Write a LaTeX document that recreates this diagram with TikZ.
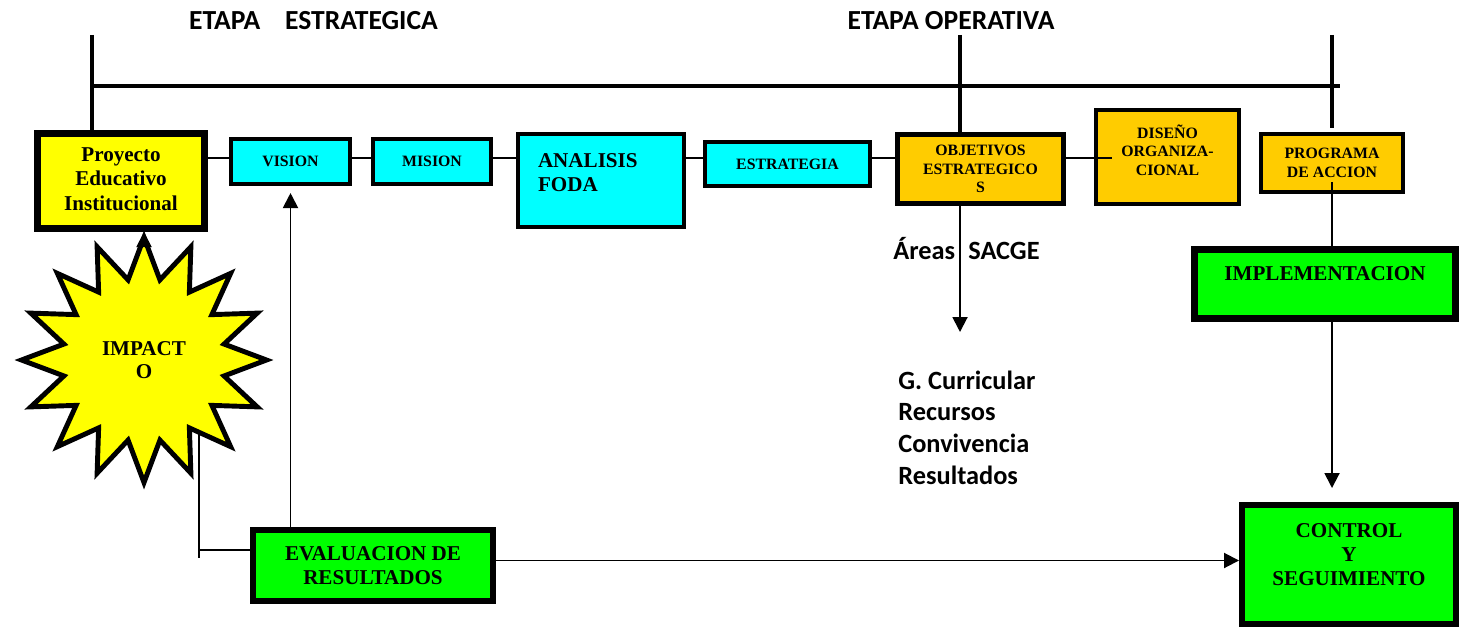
\documentclass[tikz,border=0pt]{standalone}
\usepackage{fontspec}
\setmainfont{Liberation Serif}
\newfontfamily\calib{Carlito}
\usetikzlibrary{shapes.geometric, arrows.meta}
\definecolor{boxyellow}{HTML}{FFFF00}
\definecolor{boxcyan}{HTML}{00FFFF}
\definecolor{boxgold}{HTML}{FFCC00}
\definecolor{boxgreen}{HTML}{00FF00}
\begin{document}
\begin{tikzpicture}[
        box/.style={rectangle, draw, align=center, inner sep=2pt, font=\bfseries\fontsize{9}{10.5}\selectfont},
        smallbox/.style={box, fill=boxcyan, line width=2.3pt},
        goldbox/.style={box, fill=boxgold, line width=2.3pt},
        bigbox/.style={box, fill=boxgreen, line width=3.4pt, font=\bfseries\fontsize{12}{13.5}\selectfont},
        areatext/.style={inner sep=0pt, font=\calib\bfseries\fontsize{15}{18}\selectfont},
        link/.style={line width=1.1pt},
        rail/.style={line width=2.3pt},
        arrow/.style={link, -{Triangle[length=0.3cm, width=0.3cm]}}
    ]
        \useasboundingbox (0,0) rectangle (29.34,-12.56);

        % Etapas
        \node[areatext, font=\calib\bfseries\fontsize{15.7}{18}\selectfont] (etapa1) at (6.27,-0.42) {ETAPA\hspace{0.9em}ESTRATEGICA};
        \node[areatext, font=\calib\bfseries\fontsize{15.7}{18}\selectfont] (etapa2) at (19.02,-0.42) {ETAPA OPERATIVA};

        % Etapa estrategica
        \node[box, fill=boxyellow, line width=4pt, minimum width=3.34cm, minimum height=1.90cm, text depth=0.08cm, font=\bfseries\fontsize{12}{14}\selectfont] (pei) at (2.42,-3.62) {Proyecto\\Educativo\\Institucional};
        \node[smallbox, minimum width=2.38cm, minimum height=0.90cm] (vision) at (5.81,-3.23) {VISION};
        \node[smallbox, minimum width=2.36cm, minimum height=0.90cm] (mision) at (8.64,-3.23) {MISION};
        \node[smallbox, minimum width=3.32cm, minimum height=1.86cm, text width=2.52cm, align=left, text depth=0.8cm, font=\bfseries\fontsize{12}{13.6}\selectfont] (foda) at (12.02,-3.61) {ANALISIS\\FODA};
        \node[smallbox, minimum width=3.30cm, minimum height=0.88cm] (estrategia) at (15.75,-3.28) {ESTRATEGIA};

        % Etapa operativa
        \node[goldbox, line width=2.8pt, minimum width=3.32cm, minimum height=1.38cm] (objetivos) at (19.61,-3.38) {OBJETIVOS\\ESTRATEGICO\\S};
        \node[goldbox, minimum width=2.86cm, minimum height=1.88cm, text depth=0.28cm] (diseno) at (23.35,-3.14) {DISEÑO\\ORGANIZA-\\CIONAL};
        \node[goldbox, minimum width=2.84cm, minimum height=1.16cm] (programa) at (26.64,-3.26) {PROGRAMA\\DE ACCION};
        \node[bigbox, line width=4pt, minimum width=5.22cm, minimum height=1.38cm, text depth=0.4cm] (impl) at (26.50,-5.68) {IMPLEMENTACION};
        \node[bigbox, minimum width=4.28cm, minimum height=2.38cm, text depth=0.4cm] (control) at (26.98,-11.29) {CONTROL\\Y\\SEGUIMIENTO};
        \node[bigbox, minimum width=4.80cm, minimum height=1.42cm] (evaluacion) at (7.46,-11.31) {EVALUACION DE\\RESULTADOS};

        % Impacto
        \node[star, star points=16, star point ratio=1.5, draw, fill=boxyellow, line width=2.8pt, minimum size=4.9cm, align=center, font=\bfseries\fontsize{12}{13}\selectfont] (impacto) at (2.88,-7.20) {IMPACT\\O};

        % Areas SACGE
        \node[areatext] (areas) at (19.33,-4.98) {Áreas\hspace{0.5em}SACGE};
        \node[areatext, anchor=west, align=left] (sacge) at (17.96,-8.55) {G. Curricular\\Recursos\\Convivencia\\Resultados};

        % Barra superior
        \coordinate (top1) at (1.84,-0.70);
        \coordinate (top2) at (19.20,-0.70);
        \coordinate (top3) at (26.64,-0.70);
        \coordinate (barL) at (1.84,-1.72);
        \coordinate (barR) at (26.80,-1.72);
        \draw[rail] (barL) -- (barR);
        \draw[rail] (top1) -- (top1 |- pei.north);
        \draw[rail] (top2) -- (top2 |- objetivos.north);
        \draw[rail] (top3) -- ([yshift=0.08cm]top3 |- programa.north);

        % Secuencia
        \coordinate (row) at (0,-3.16);
        \draw[link] (pei.east |- row) -- (vision.west |- row);
        \draw[link] (vision.east |- row) -- (mision.west |- row);
        \draw[link] (mision.east |- row) -- (foda.west |- row);
        \draw[link] (foda.east |- row) -- (estrategia.west |- row);
        \draw[link] (estrategia.east |- row) -- (objetivos.west |- row);
        \draw[link] (objetivos.east |- row) -- ([xshift=0.36cm]diseno.west |- row);

        % Flechas
        \coordinate (areasEnd) at (19.20,-6.64);
        \draw[arrow] (objetivos.south -| areasEnd) -- (areasEnd);
        \draw[link] ([yshift=0.24cm]programa.south) -- (programa.south |- impl.north);
        \draw[arrow, shorten >=0.28cm] (programa.south |- impl.south) -- (programa.south |- control.north);
        \draw[arrow] ([yshift=0.1cm]evaluacion.east) -- ([yshift=0.1cm]evaluacion.east -| control.west);
        \draw[arrow, shorten >=0.14cm] (evaluacion.north -| vision.south) -- (vision.south);
        \draw[arrow] ([yshift=-0.3cm]impacto.north) -- (impacto.north |- pei.south);

        % Retorno al impacto
        \coordinate (impactofoot) at (3.98,-8.66);
        \coordinate (evalknee) at (3.98,-11.00);
        \draw[link] (impactofoot) -- ([yshift=-0.16cm]evalknee);
        \draw[link] (evalknee) -- (evalknee -| evaluacion.west);

    \end{tikzpicture}
\end{document}
